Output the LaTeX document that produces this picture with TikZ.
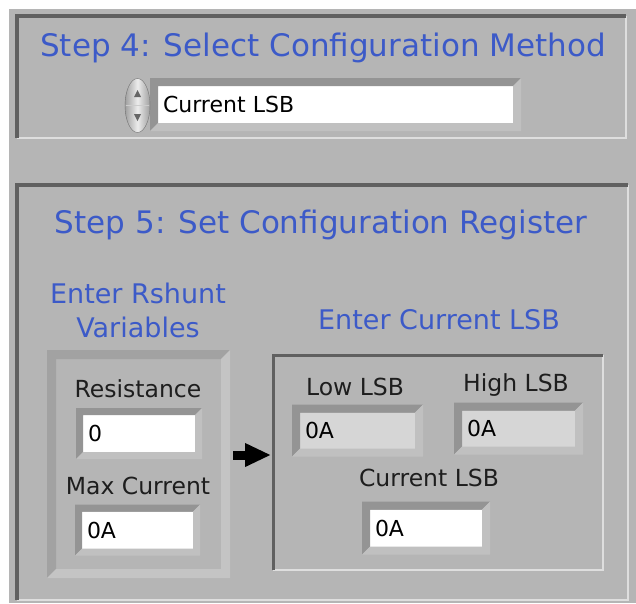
\documentclass[tikz,border=0pt]{standalone}
\usepackage{fontspec}
\setmainfont{DejaVu Sans}
\usepackage{xcolor}
\usetikzlibrary{arrows.meta}
\definecolor{panelgray}{RGB}{181,181,181}
\definecolor{darkedge}{RGB}{96,96,96}
\definecolor{lightedge}{RGB}{222,222,222}
\definecolor{beveldark}{RGB}{148,148,148}
\definecolor{bevellight}{RGB}{192,192,192}
\definecolor{framedark}{RGB}{162,162,162}
\definecolor{framelight}{RGB}{196,196,196}
\definecolor{stepblue}{RGB}{60,90,200}
\definecolor{indgray}{RGB}{214,214,214}
\definecolor{labelgray}{RGB}{30,30,30}

% sunken edge round a node: node, depth, dark colour, light colour
\newcommand{\bevel}[4]{%
\fill[#3] (#1.south west) -- (#1.north west) -- (#1.north east)
  -- ([xshift=#2,yshift=#2]#1.north east) -- ([xshift=-#2,yshift=#2]#1.north west)
  -- ([xshift=-#2,yshift=-#2]#1.south west) -- cycle;
\fill[#4] (#1.south west) -- (#1.south east) -- (#1.north east)
  -- ([xshift=#2,yshift=#2]#1.north east) -- ([xshift=#2,yshift=-#2]#1.south east)
  -- ([xshift=-#2,yshift=-#2]#1.south west) -- cycle;
}

\begin{document}
\begin{tikzpicture}[x=1pt, y=-1pt,
  steptitle/.style={text=stepblue, font=\fontsize{31}{33}\selectfont},
  subtitle/.style={text=stepblue, font=\fontsize{27}{34}\selectfont, align=center},
  caption/.style={text=labelgray, font=\fontsize{23.5}{25}\selectfont},
  panel/.style={fill=panelgray, inner sep=0pt, outer sep=0pt},
  entry/.style={fill=white, inner xsep=5pt, inner ysep=0pt, outer sep=0pt,
    text width=#1-10pt, minimum height=37pt, align=left, text=black,
    font=\fontsize{22}{23}\selectfont},
  indicator/.style={entry=#1, fill=indgray, minimum height=36pt},
  flow/.style={line width=9pt, -{Triangle[length=26pt,width=22pt]}, shorten <=12pt, shorten >=2pt}
]
%background
\fill[white] (0,0) rectangle (636,603);
\fill[panelgray] (9,9) rectangle (636,603);

%step 4 panel
\node[panel, minimum width=609pt, minimum height=122pt] (p4) at (321.5,77) {};
\draw[lightedge, line width=2pt] (p4.south west) -| (p4.north east);
\draw[darkedge, line width=3.5pt] (p4.south west) |- (p4.north east);
\node[steptitle] (t4) at (323,48) {Step 4: Select Configuration Method};

\node[entry=355pt] (sel) at (335.5,104.5) {Current LSB};
\bevel{sel}{8pt}{beveldark}{bevellight}
\shade[left color=gray!75, right color=gray!75, middle color=gray!15, draw=black!55]
  (137.5,105.5) ellipse (12.5 and 27);
\draw[gray!40, line width=1pt] (126,105.5) -- (149,105.5);
\fill[black!60] (137.5,90) -- (134,97) -- (141,97) -- cycle;
\fill[black!60] (137.5,121) -- (134,114) -- (141,114) -- cycle;

%step 5 panel
\node[panel, minimum width=611pt, minimum height=415pt] (p5) at (322.5,392.5) {};
\draw[lightedge, line width=2pt] (p5.south west) -| (p5.north east);
\draw[darkedge, line width=3.5pt] (p5.south west) |- (p5.north east);
\node[steptitle] (t5) at (321,225) {Step 5: Set Configuration Register};

%rshunt side
\node[subtitle] (rtitle) at (138,310) {Enter Rshunt\\Variables};
\node[panel, minimum width=165pt, minimum height=210pt] (rshunt) at (138.5,464) {};
\bevel{rshunt}{9pt}{framedark}{framelight}
\node[caption] (lres) at (138,389) {Resistance};
\node[entry=112pt] (res) at (139,433.5) {0};
\bevel{res}{7pt}{beveldark}{bevellight}
\node[caption] (lmax) at (138,486) {Max Current};
\node[entry=111pt] (maxc) at (137.5,530) {0A};
\bevel{maxc}{7pt}{beveldark}{bevellight}

%current lsb side
\node[subtitle] (ltitle) at (439,320) {Enter Current LSB};
\node[panel, minimum width=330pt, minimum height=215pt] (lsbbox) at (438,462.5) {};
\draw[lightedge, line width=2pt] (lsbbox.south west) -| (lsbbox.north east);
\draw[darkedge, line width=3pt] (lsbbox.south west) |- (lsbbox.north east);
\node[caption] (llow) at (355,387) {Low LSB};
\node[indicator=115pt] (low) at (357.5,430.5) {0A};
\bevel{low}{8pt}{beveldark}{bevellight}
\node[caption] (lhigh) at (516,385) {High LSB};
\node[indicator=113pt] (high) at (518.5,428.5) {0A};
\bevel{high}{8pt}{beveldark}{bevellight}
\node[caption] (lcur) at (429,478) {Current LSB};
\node[entry=112pt] (cur) at (426,528) {0A};
\bevel{cur}{8pt}{beveldark}{bevellight}

\draw[flow] ([yshift=9pt]rshunt.east) -- ([yshift=9pt]rshunt.east -| lsbbox.west);
\end{tikzpicture}
\end{document}
